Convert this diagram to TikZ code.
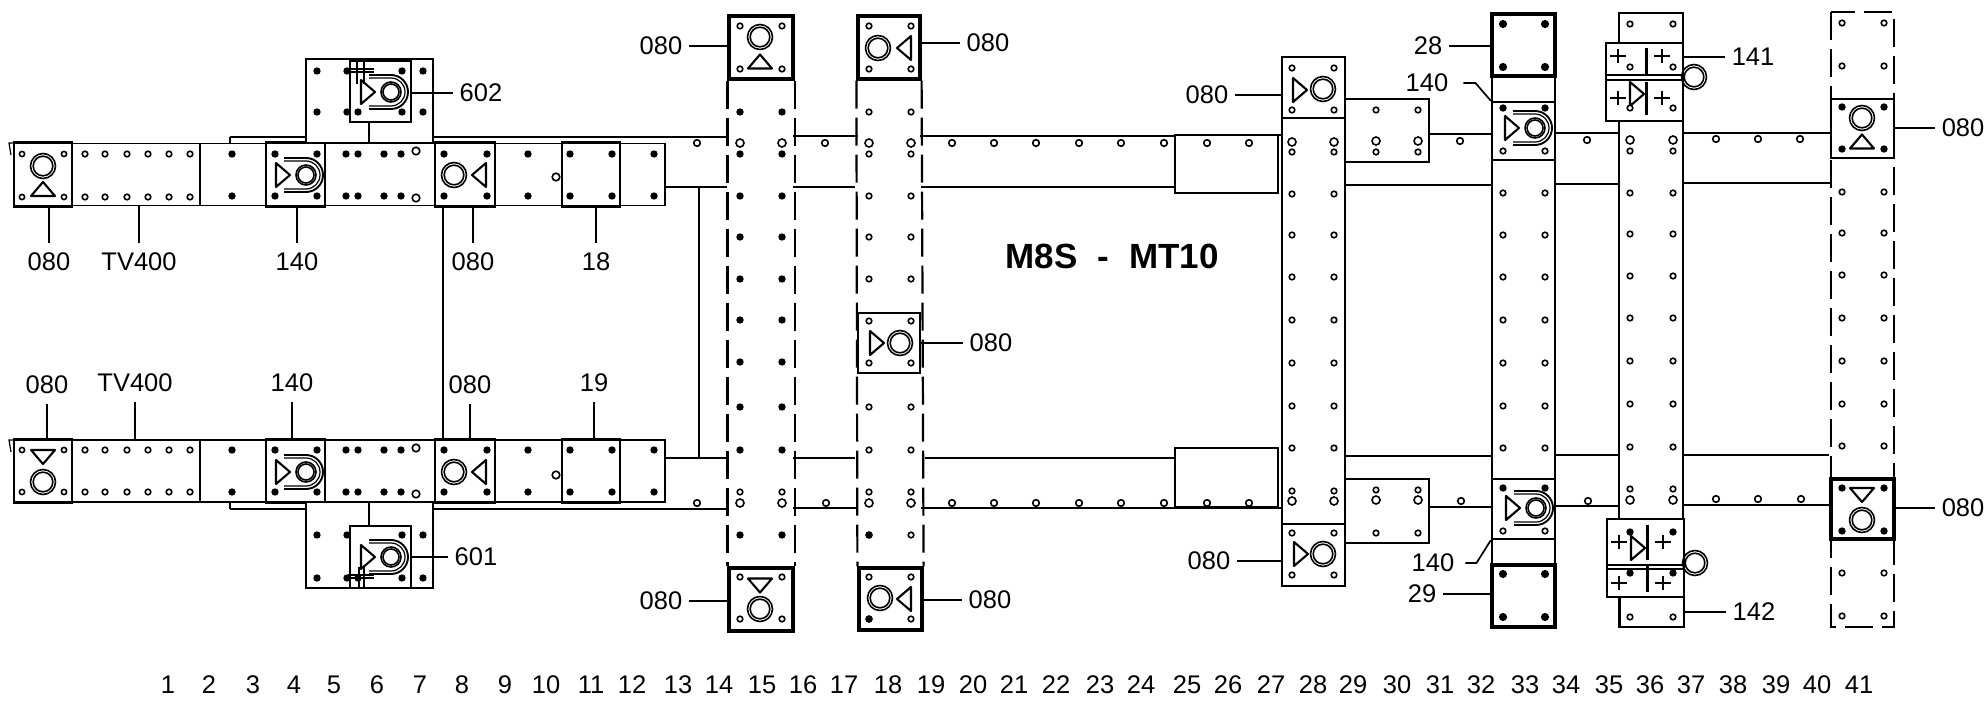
\documentclass[tikz,border=0pt]{standalone}
\usepackage{fontspec}
\setmainfont{Liberation Sans}

\tikzset{
    symline/.style={line width=1.6pt},
    ring/.pic={
        \draw[symline] (0,0) circle (12.5);
        \draw[symline] (0,0) circle (9.8);
    },
    wedge/.pic={
        \draw[line width=2.1pt,line join=round] (7,0) -- (-7,12) -- (-7,-12) -- cycle;
    },
    fitting/.pic={
        \pic at (-23,0) {wedge};
        \draw[symline] (0,0) circle (10);
        \draw[symline] (0,0) circle (8);
        \draw[line width=1.9pt] (-22,-17) -- (0,-17) arc (-90:90:17) -- (-22,17);
        \draw[line width=1.2pt] (-22,-14) -- (0,-14) arc (-90:90:14) -- (-22,14);
    },
    cross/.pic={
        \draw[line width=1.5pt] (-8,0) -- (8,0) (0,-7) -- (0,7);
    },
}

\begin{document}
\begin{tikzpicture}[x=1pt,y=-1pt,line cap=butt]
    \tikzstyle{plate}=[draw,fill=white,rectangle,inner sep=0pt,line width=1.9pt]
    \tikzstyle{heavy}=[plate,line width=3.2pt]
    \tikzstyle{tag}=[inner xsep=7pt,inner ysep=10pt,font=\fontsize{25.5}{30}\selectfont]
    \tikzstyle{leader}=[line width=1.7pt]
    \tikzstyle{beam}=[line width=2.1pt]
    \tikzstyle{rside}=[line width=2.2pt,dash pattern=on 28pt off 9pt]
    \tikzstyle{hfill}=[fill=black]
    \tikzstyle{hopen}=[draw=black,fill=white,line width=1.6pt]

    \useasboundingbox (0,0) rectangle (1986,703);

    % beams
    \foreach \xa/\xb/\yb in {433/729/137, 230/306/137, 793/858/136, 920/1176/136, 1176/1281/135,
        1429/1492/134, 1555/1619/133, 1683/1831/133,
        665/727/187, 793/855/187, 921/1175/187, 1345/1492/185, 1556/1619/184, 1683/1831/183,
        433/729/509, 230/306/509, 793/858/508, 921/1281/508, 1429/1492/507, 1556/1619/506, 1683/1831/505,
        665/728/458, 793/855/458, 925/1175/458, 1345/1492/456, 1556/1619/455, 1683/1829/455}
        \draw[beam] (\xa,\yb) -- (\xb,\yb);
    \draw[line width=1.4pt] (443,206) -- (443,440) (699,187) -- (699,458);
    \draw[beam] (230,137) -- (230,143) (230,502) -- (230,509);
    \draw[line width=1.2pt] (14,143) -- (9,143) -- (11,155) (14,440) -- (9,440) -- (11,452);

    % left rails
    \foreach \rw/\ym in {u/174.5,l/471}
        \foreach \seg/\xm/\pw in {a/43/58,tv/136/128,c/233/66,d/295.5/59,e/380/110,f/465/60,g/528.5/67,h/591/58,k/642.5/45}
            \node[plate,minimum width=\pw,minimum height=62] (\rw\seg) at (\xm,\ym) {};
    \foreach \pl in {ua,ud,uf,uh,la,ld,lf,lh}
        \draw[line width=2.4pt] (\pl.north west) -- (\pl.north east) (\pl.south west) -- (\pl.south east);

    % T plates
    \node[plate,minimum width=127,minimum height=84] (tu) at (369.5,101) {};
    \node[plate,minimum width=127,minimum height=86] (tl) at (369.5,545) {};
    \node[plate,minimum width=61,minimum height=61] (p602) at (380.5,91.5) {};
    \node[plate,minimum width=61,minimum height=62] (p601) at (380.5,557) {};
    \draw[line width=1.2pt] (369,122) -- (369,143) (369,502) -- (369,526);

    % dashed rails
    \node[heavy,minimum width=64,minimum height=63] (p15t) at (761,47.5) {};
    \node[heavy,minimum width=64,minimum height=63] (p15b) at (761,599.5) {};
    \node[heavy,minimum width=62,minimum height=63] (p18t) at (889,47.5) {};
    \node[heavy,minimum width=63,minimum height=62] (p18b) at (890.5,599) {};
    \draw[rside] (p15t.south west) -- (p15b.north west);
    \draw[rside] (p15t.south east) -- (p15b.north east);
    \draw[rside] (p18t.south west) -- (p18b.north west);
    \draw[rside] (p18t.south east) -- (p18b.north east);
    \node[heavy,line width=2.4pt,minimum width=62,minimum height=60] (p18m) at (889,343) {};

    \draw[rside] (1831,12) rectangle (1894,627);
    \node[heavy,line width=2.4pt,minimum width=63,minimum height=59] (p41t) at (1862.5,128.5) {};
    \node[heavy,minimum width=63,minimum height=60] (p41b) at (1862.5,509) {};

    % solid rails
    \node[plate,minimum width=103,minimum height=58] (bx25t) at (1226.5,164) {};
    \node[plate,minimum width=103,minimum height=59] (bx25b) at (1226.5,477.5) {};
    \node[plate,minimum width=63,minimum height=529] (r28) at (1313.5,321.5) {};
    \node[heavy,line width=2.6pt,minimum width=63,minimum height=61] (p28t) at (1313.5,87.5) {};
    \node[heavy,line width=2.6pt,minimum width=63,minimum height=62] (p28b) at (1313.5,555) {};
    \node[plate,minimum width=84,minimum height=63] (bx30t) at (1387,130.5) {};
    \node[plate,minimum width=84,minimum height=64] (bx30b) at (1387,511) {};

    \node[plate,minimum width=63,minimum height=613] (r33) at (1523.5,320.5) {};
    \node[heavy,minimum width=63,minimum height=62] (p28) at (1523.5,45) {};
    \node[heavy,line width=2.4pt,minimum width=63,minimum height=58] (p33u) at (1523.5,131) {};
    \node[heavy,line width=2.4pt,minimum width=63,minimum height=60] (p33l) at (1523.5,509) {};
    \node[heavy,minimum width=63,minimum height=62] (p29) at (1523.5,596) {};

    \node[plate,minimum width=64,minimum height=614] (r36) at (1651,320) {};
    \node[plate,minimum width=77,minimum height=78] (p141) at (1644.5,82) {};
    \node[plate,minimum width=77,minimum height=78] (b142) at (1645.5,558) {};
    \node[plate,minimum width=64,minimum height=30] (p142) at (1652,612) {};

    % the upper and the lower assembly on rail 36
    \draw[line width=1.5pt] (1606,75) -- (1683,75) (1606,80) -- (1683,80) (1607,565) -- (1684,565) (1607,569) -- (1684,569);
    \draw[line width=3pt] (1646,48) -- (1646,74) (1646,82) -- (1646,115) (1647,525) -- (1647,560) (1647,566) -- (1647,592);
    \foreach \xa/\ya in {1618/56,1662/56,1618/98,1662/98,1619/542,1663/542,1619/583,1663/583}
        \pic at (\xa,\ya) {cross};
    \pic at (1637,94) {wedge};
    \pic at (1638,548) {wedge};
    \pic at (1694,77) {ring};
    \pic at (1695,563) {ring};

    % small marks by the two T plates
    \draw[line width=1.2pt] (350,69) -- (374,69) (350,72) -- (374,72) (357,62) -- (357,84) (364,62) -- (364,84);
    \draw[line width=1.2pt] (348,575) -- (374,575) (348,578) -- (374,578) (359,567) -- (359,587) (364,567) -- (364,587);

    % rings and wedges of the plates
    \foreach \xa/\ya/\rot/\ra/\rb in {43/189/90/43/166, 43/457/-90/43/482, 760/61.5/90/760/37, 760/585.5/-90/760/609,
        1862/141.5/90/1862/118, 1862/495/-90/1862/520,
        479/175/180/454/175, 479/472/180/454/472, 904/48/180/878/48, 904/599/180/880/598,
        877/343/0/900/343, 1300/90/0/1323/89, 1301/554/0/1323/554}
    {
        \pic[rotate=\rot] at (\xa,\ya) {wedge};
        \pic at (\ra,\rb) {ring};
    }
    \foreach \xa/\ya in {306/175,306/472,391/92,391/557,1535/128,1536/508}
        \pic at (\xa,\ya) {fitting};

    % holes
    \foreach \xa in {275,317,232,346,358,384,401,528,570,612,654,444,487}
        \foreach \ya in {154,196,450,492}
            \fill[hfill] (\xa,\ya) circle (3.7);
    \foreach \xa in {85,105,127,148,169,190}
        \foreach \ya in {154,197,450,492}
            \draw[hopen] (\xa,\ya) circle (2.8);
    \foreach \xa/\ya in {22/154,64/154,22/197,64/197,22/450,64/450,22/492,64/492}
        \draw[hopen] (\xa,\ya) circle (2.6);
    \foreach \xa/\ya in {416/151,416/198,416/448,416/494,556/177,556/475}
        \draw[hopen] (\xa,\ya) circle (3.8);
    \foreach \xa in {317,402,423}
        \foreach \ya in {71,112,535,578}
            \fill[hfill] (\xa,\ya) circle (3.7);
    \foreach \xa/\ya in {347/71,358/112,347/112,347/535,358/578,347/578}
        \fill[hfill] (\xa,\ya) circle (3.7);

    \foreach \xa in {740,782}
    {
        \foreach \ya in {112,154,196,237,279,320,362,407,450,535}
            \fill[hfill] (\xa,\ya) circle (3.7);
        \foreach \ya in {26,69,492,577,619}
            \draw[hopen] (\xa,\ya) circle (2.8);
        \foreach \ya in {143,503}
            \draw[hopen] (\xa,\ya) circle (4);
    }
    \foreach \xa in {869,911}
    {
        \foreach \ya in {26,69,112,154,196,237,279,321,363,407,450,492,535,577,619}
            \draw[hopen] (\xa,\ya) circle (2.8);
        \foreach \ya in {143,503}
            \draw[hopen] (\xa,\ya) circle (4);
    }
    \fill[hfill] (869,535) circle (3.7) (869,619) circle (3.7);

    \foreach \xa in {1292,1334}
    {
        \foreach \ya in {68,110,152,194,235,277,320,363,406,448,491,533,575}
            \draw[hopen] (\xa,\ya) circle (2.8);
        \foreach \ya in {142,501}
            \draw[hopen] (\xa,\ya) circle (4);
    }
    \foreach \xa in {1376,1418}
    {
        \foreach \ya in {110,152,490,533}
            \draw[hopen] (\xa,\ya) circle (2.8);
        \foreach \ya in {141,500}
            \draw[hopen] (\xa,\ya) circle (4);
    }
    \foreach \xa in {1503,1545}
    {
        \foreach \ya in {24,67,574,617}
            \fill[hfill] (\xa,\ya) circle (4.1);
        \foreach \ya in {108,488}
            \fill[hfill] (\xa,\ya) circle (3.7);
        \foreach \ya in {151,193,235,277,320,363,406,448,531}
            \draw[hopen] (\xa,\ya) circle (2.8);
    }
    \foreach \xa in {1630,1673}
    {
        \foreach \ya in {24,67,108,151,193,234,276,318,361,404,447,489,617}
            \draw[hopen] (\xa,\ya) circle (2.8);
        \foreach \ya in {140,500}
            \draw[hopen] (\xa,\ya) circle (4);
        \foreach \ya in {532,573}
            \fill[hfill] (\xa,\ya) circle (3.7);
    }
    \foreach \xa in {1842,1884}
    {
        \foreach \ya in {23,66,192,233,275,318,361,404,446,573,616}
            \draw[hopen] (\xa,\ya) circle (2.8);
        \foreach \ya in {107,149,488,531}
            \fill[hfill] (\xa,\ya) circle (3.7);
    }
    \foreach \xa in {952,994,1036,1079,1121,1164,1207,1249}
        \draw[hopen] (\xa,143) circle (3.3) (\xa,503) circle (3.3);
    \foreach \xa/\ya in {697/143,825/143,1460/141,1587/140,1716/139,1758/139,1800/139,
        697/503,826/503,1461/501,1588/501,1716/499,1758/499,1801/499}
        \draw[hopen] (\xa,\ya) circle (3.3);

    % labels
    \node[font=\fontsize{35}{40}\selectfont\bfseries] (title) at (1112,256) {\spaceskip=20pt M8S - MT10};

    \node[tag] (t1)  at (49,262)  {080};
    \node[tag] (t2)  at (139,262) {TV400};
    \node[tag] (t3)  at (297,262) {140};
    \node[tag] (t4)  at (473,262) {080};
    \node[tag] (t5)  at (596,262) {18};
    \node[tag] (t6)  at (47,385)  {080};
    \node[tag] (t7)  at (135,383) {TV400};
    \node[tag] (t8)  at (292,383) {140};
    \node[tag] (t9)  at (470,385) {080};
    \node[tag] (t10) at (594,383) {19};
    \node[tag] (t11) at (481,93)  {602};
    \node[tag] (t12) at (476,557) {601};
    \node[tag] (t13) at (661,46)  {080};
    \node[tag] (t14) at (661,601) {080};
    \node[tag] (t15) at (988,43)  {080};
    \node[tag] (t16) at (991,343) {080};
    \node[tag] (t17) at (990,600) {080};
    \node[tag] (t18) at (1207,95) {080};
    \node[tag] (t19) at (1209,561) {080};
    \node[tag] (t20) at (1428,46) {28};
    \node[tag] (t21) at (1427,83) {140};
    \node[tag] (t22) at (1433,563) {140};
    \node[tag] (t23) at (1422,594) {29};
    \node[tag] (t24) at (1753,57) {141};
    \node[tag] (t25) at (1754,612) {142};
    \node[tag] (t26) at (1963,128) {080};
    \node[tag] (t27) at (1963,508) {080};

    \foreach \tg/\pl in {t1/ua,t2/utv,t3/ud,t4/uf,t5/uh}
        \draw[leader] (\tg.north) -- (\tg.north |- \pl.south);
    \foreach \tg/\pl in {t6/la,t7/ltv,t8/ld,t9/lf,t10/lh}
        \draw[leader] (\tg.south) -- (\tg.south |- \pl.north);
    \foreach \tg/\pl in {t11/p602,t12/p601,t15/p18t,t16/p18m,t17/p18b,t24/p141,t25/p142,t26/p41t,t27/p41b}
        \draw[leader] (\tg.west) -- (\tg.west -| \pl.east);
    \foreach \tg/\pl in {t13/p15t,t14/p15b,t18/p28t,t19/p28b,t20/p28,t23/p29}
        \draw[leader] (\tg.east) -- (\tg.east -| \pl.west);
    \draw[leader] (t21.east) ++(8,0) -- ++(12,0) -- (p33u.north west);
    \draw[leader] (t22.east) ++(4,0) -- ++(11,0) -- (p33l.south west);

    % station numbers
    \foreach \xa [count=\n] in {168,209,253,294,334,377,420,462,505,546,591,632,678,719,762,803,844,888,931,973,
        1014,1056,1100,1141,1187,1228,1271,1313,1353,1397,1440,1481,1525,1566,1609,1650,1691,1733,1776,1817,1859}
        \node[font=\fontsize{25.5}{30}\selectfont] (n\n) at (\xa,685) {\n};
\end{tikzpicture}
\end{document}
